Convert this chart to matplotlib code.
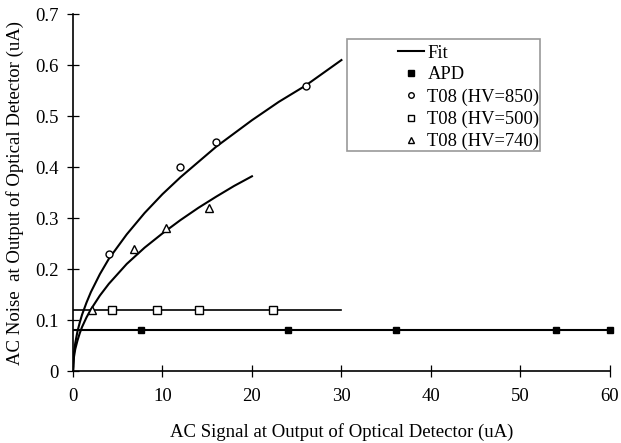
import matplotlib.pyplot as plt
from matplotlib.patches import Rectangle
import numpy as np

plt.rcParams['font.family'] = ['Liberation Serif', 'DejaVu Serif']

# measured points
apd_x = [7.6, 24.0, 36.1, 54.0, 60.0]
apd_y = [0.08, 0.08, 0.08, 0.08, 0.08]

hv850_x = [4.0, 12.0, 16.0, 26.0]
hv850_y = [0.23, 0.40, 0.45, 0.56]

hv500_x = [4.4, 9.4, 14.1, 22.3]
hv500_y = [0.12, 0.12, 0.12, 0.12]

hv740_x = [2.1, 6.8, 10.4, 15.2]
hv740_y = [0.12, 0.24, 0.28, 0.32]

# fit curves
fit850_x = [0, 0.1, 0.25, 0.5, 0.75, 1.0, 1.5, 2, 3, 4, 6, 8, 10, 12, 14, 16, 18, 20, 23, 26, 30]
fit850_y = [0, 0.035, 0.055, 0.078, 0.095, 0.11, 0.134, 0.155, 0.19, 0.22, 0.268, 0.31, 0.347, 0.38,
            0.41, 0.44, 0.466, 0.492, 0.528, 0.56, 0.61]

fit740_x = [0, 0.1, 0.25, 0.5, 0.75, 1.0, 1.5, 2, 3, 4, 6, 8, 10, 12, 14, 16, 18, 20]
fit740_y = [0, 0.027, 0.043, 0.06, 0.074, 0.086, 0.105, 0.121, 0.148, 0.171, 0.21, 0.242, 0.27,
            0.296, 0.32, 0.342, 0.363, 0.382]

fit_apd_x = [0, 60]
fit_apd_y = [0.08, 0.08]
fit500_x = [0, 30]
fit500_y = [0.12, 0.12]

fig = plt.figure(figsize=(6.21, 4.43), dpi=100)
ax = fig.add_axes([0.1176, 0.1625, 0.8644, 0.8055])

lw = 1.5
ax.plot(fit850_x, fit850_y, color='black', lw=lw, label='Fit')
ax.plot(fit740_x, fit740_y, color='black', lw=lw)
ax.plot(fit_apd_x, fit_apd_y, color='black', lw=lw)
ax.plot(fit500_x, fit500_y, color='black', lw=lw * 0.8)

ax.plot(apd_x, apd_y, ls='none', marker='s', ms=5, color='black', label='APD', clip_on=False)
ax.plot(hv850_x, hv850_y, ls='none', marker='o', ms=5, mfc='white', mec='black', mew=1.0,
        label='T08 (HV=850)')
ax.plot(hv500_x, hv500_y, ls='none', marker='s', ms=5.5, mfc='white', mec='black', mew=1.0,
        label='T08 (HV=500)')
ax.plot(hv740_x, hv740_y, ls='none', marker='^', ms=6, mfc='white', mec='black', mew=1.0,
        label='T08 (HV=740)')

ax.set_xlim(0, 60)
ax.set_ylim(0, 0.7)
ax.set_xticks(np.arange(0, 61, 10))
ax.set_yticks(np.arange(0, 0.71, 0.1))
ax.set_yticklabels(['0', '0.1', '0.2', '0.3', '0.4', '0.5', '0.6', '0.7'])
ax.tick_params(direction='inout', length=9, width=0.9, labelsize=13.5, pad=6)
ax.tick_params(axis='x', pad=8)

for s in ['top', 'right']:
    ax.spines[s].set_visible(False)
for s in ['left', 'bottom']:
    ax.spines[s].set_linewidth(1.2)

ax.set_xlabel('AC Signal at Output of Optical Detector (uA)', fontsize=13.5, labelpad=13)
ax.set_ylabel('AC Noise  at Output of Optical Detector (uA)', fontsize=13.5, labelpad=8)

# legend box drawn separately: the handles sit well right of its left edge
ax.add_patch(Rectangle((0.510, 0.616), 0.360, 0.314, transform=ax.transAxes,
                       facecolor='white', edgecolor='#999999', lw=1.2, zorder=4))
leg = ax.legend(loc='upper left', bbox_to_anchor=(0.605, 0.915), fontsize=13.3, frameon=False,
                handlelength=1.4, handletextpad=0.2, labelspacing=0.27, borderpad=0,
                borderaxespad=0, markerscale=0.8)
leg.set_zorder(5)

fig.savefig('out.png', dpi=100)
